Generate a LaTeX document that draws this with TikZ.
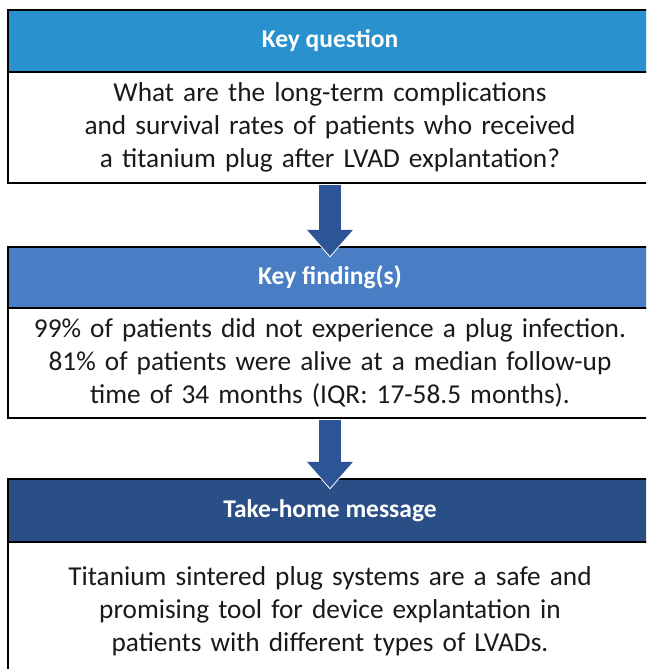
\documentclass[tikz,border=0pt]{standalone}
\usepackage{fontspec}
\setmainfont{Carlito}
\usetikzlibrary{positioning,arrows.meta}
\definecolor{qblue}{RGB}{41,146,206}
\definecolor{fblue}{RGB}{74,126,196}
\definecolor{mblue}{RGB}{42,78,134}
\definecolor{arrowblue}{RGB}{44,84,150}
\definecolor{bodytext}{RGB}{26,26,26}
\tikzstyle{head} = [draw, line width=2pt, outer sep=0pt, minimum width=644pt, minimum height=62pt, inner sep=0pt, text=white, font=\fontsize{25.5}{28}\selectfont\bfseries]
\tikzstyle{body} = [draw, line width=2pt, outer sep=0pt, minimum width=644pt, text width=630pt, align=center, inner sep=0pt, text=bodytext, font=\fontsize{27.3}{33}\selectfont]
\tikzstyle{bigarrow} = [arrowblue, line width=22pt, -{Triangle[width=44pt,length=26pt]}, shorten <=2pt, shorten >=-9pt,
    preaction={draw=white, line width=25pt, -{Triangle[width=49pt,length=29pt]}, shorten <=2pt, shorten >=-10.5pt}]

\begin{document}
\begin{tikzpicture}[x=1pt, y=1pt]
    \useasboundingbox (0,0) rectangle (646,669);
    \clip (0,0) rectangle (646,669);
    % question
    \node[head, fill=qblue, anchor=north west] (qhead) at (8,659) {Key question};
    \node[body, minimum height=111pt, below=0pt of qhead] (qbody) {What are the long-term complications\\and survival rates of patients who received\\a titanium plug after LVAD explantation?};
    % findings
    \node[head, fill=fblue, minimum height=61pt, below=64pt of qbody] (fhead) {Key finding(s)};
    \node[body, minimum height=110pt, below=0pt of fhead] (fbody) {99\% of patients did not experience a plug infection.\\81\% of patients were alive at a median follow-up\\time of 34 months (IQR: 17-58.5 months).};
    % message
    \node[head, fill=mblue, minimum height=63pt, below=61pt of fbody] (mhead) {Take-home message};
    \node[body, minimum height=138pt, below=0pt of mhead] (mbody) {Titanium sintered plug systems are a safe and\\promising tool for device explantation in\\patients with different types of LVADs.};
    \draw[bigarrow] (qbody.south) -- (fhead.north);
    \draw[bigarrow] (fbody.south) -- (mhead.north);
\end{tikzpicture}
\end{document}
